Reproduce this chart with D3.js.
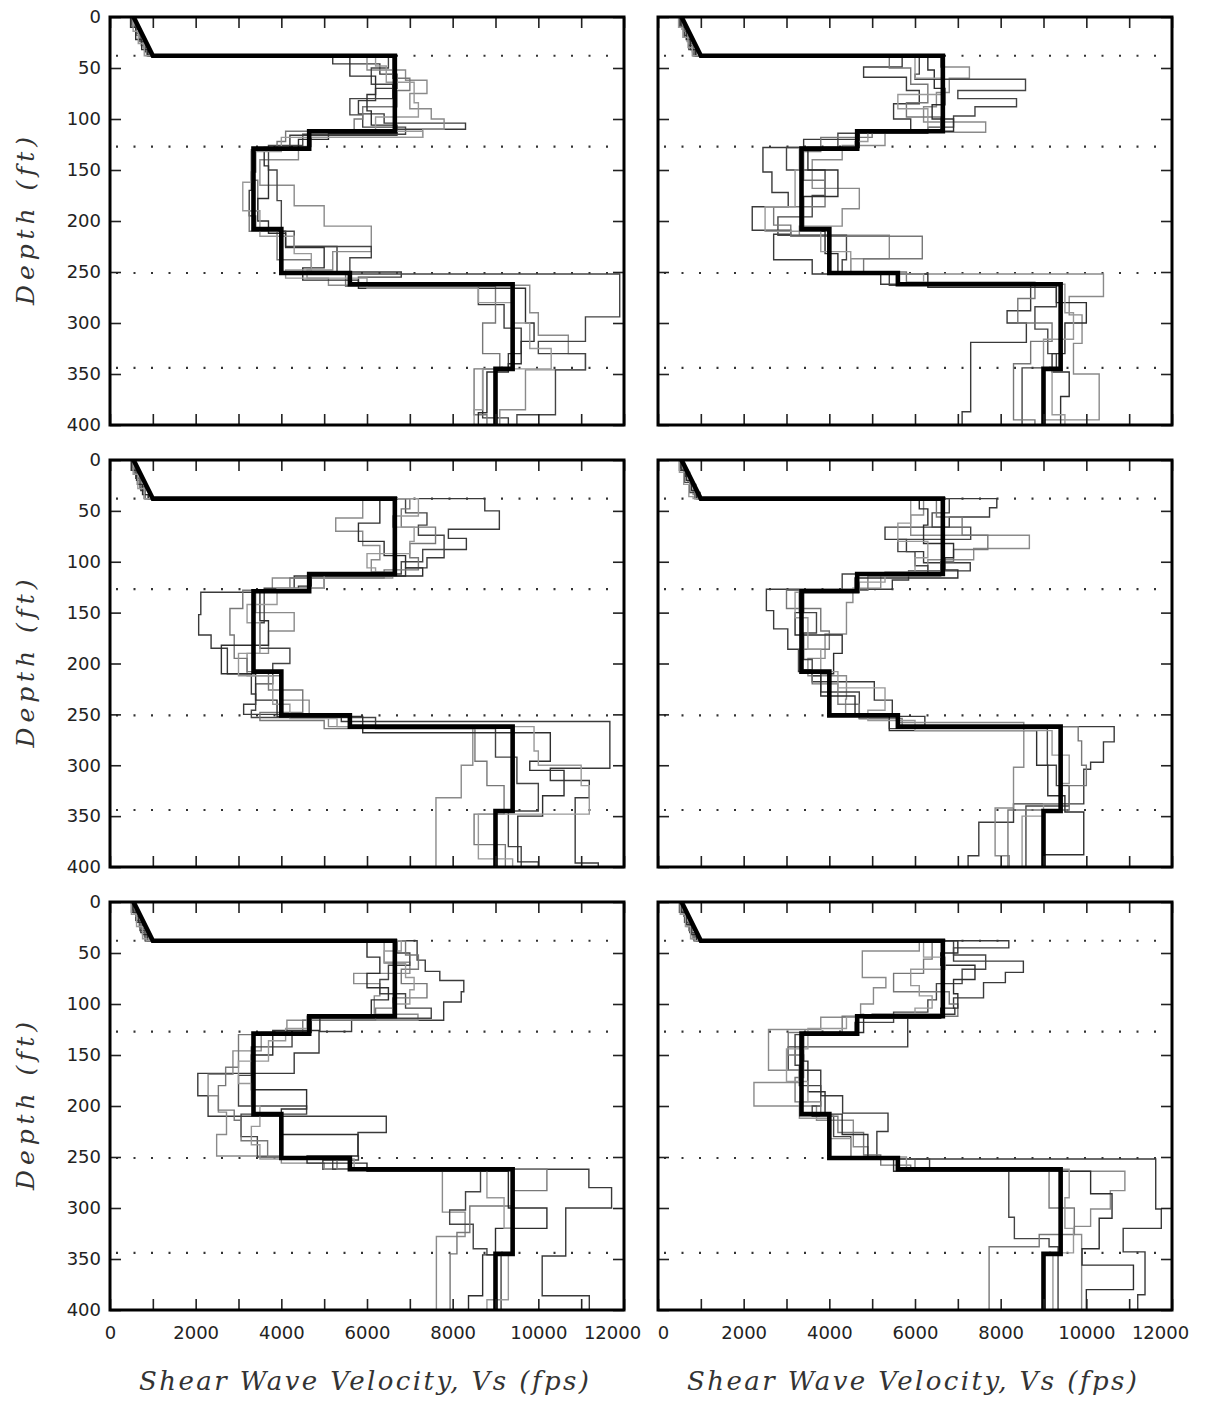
<!DOCTYPE html>
<html><head><meta charset="utf-8">
<script src="https://cdn.jsdelivr.net/npm/d3@7"></script>
<style>body{margin:0;background:#fff}</style>
</head><body>
<svg id="c" width="1206" height="1401"></svg>
<script>
// ---------------- DATA ----------------
const xTicks = [0, 2000, 4000, 6000, 8000, 10000, 12000];
const yTicks = [0, 50, 100, 150, 200, 250, 300, 350, 400];
const dottedDepths = [38, 127, 251, 344];
const xTitle = "Shear Wave Velocity, Vs (fps)";
const yTitle = "Depth (ft)";

// baseline (thick black): sloped surface part then layers [topDepth, Vs]
const baselineSurface = [[0, 550], [38, 1000]];
const baselineLayers = [[38, 6650], [112, 4650], [129, 3350], [208, 4000], [251, 5600], [262, 9400], [345, 9000]];

// randomized profiles: each profile = list of [layer top depth (ft), Vs (fps)]
const panel1 = [
  [[0,500],[8,600],[16,700],[24,800],[32,900],[38,5200],[46,6300],[56,6700],[70,6200],[82,5800],[95,6400],[104,8300],[110,6700],[116,4200],[129,3400],[152,3300],[170,3250],[195,3400],[210,4100],[225,5300],[250,6800],[255,5800],[263,8600],[282,9200],[305,9600],[330,9300],[345,8700],[393,9300]],
  [[0,560],[10,680],[20,780],[30,850],[38,6000],[52,6900],[62,7400],[75,7000],[90,7500],[100,7800],[110,7300],[118,4700],[127,4400],[140,3500],[165,4300],[185,5000],[205,6100],[230,5200],[248,4600],[256,5100],[263,9800],[290,10000],[312,10700],[330,11100],[346,9700],[385,9100]],
  [[0,600],[12,720],[24,820],[34,920],[38,6500],[50,6100],[66,6600],[80,5600],[96,5900],[108,6900],[115,4500],[126,3700],[150,3900],[180,4000],[210,4300],[225,6100],[236,5600],[252,11900],[294,11100],[318,10000],[330,11100],[346,10400],[390,9500]],
  [[0,520],[9,620],[18,730],[28,860],[36,950],[38,6600],[60,7000],[72,6700],[88,5900],[100,5700],[112,4100],[122,3900],[130,3300],[160,3450],[190,3250],[210,3900],[238,4700],[252,5500],[264,9000],[300,8700],[330,9100],[345,8500],[390,8800]],
  [[0,480],[10,600],[22,740],[32,880],[38,5600],[58,6200],[76,6000],[92,6100],[106,6700],[114,5100],[120,4400],[128,3600],[146,3700],[178,3450],[200,3700],[212,4100],[226,5000],[246,4500],[258,5800],[266,9700],[300,9900],[318,9600],[340,9300],[348,8800],[388,8600]],
  [[0,540],[14,660],[26,800],[38,6200],[48,6450],[64,7100],[84,7200],[98,6200],[112,7300],[118,4000],[132,3300],[162,3100],[190,3500],[215,4300],[232,4700],[248,4100],[256,6000],[266,8600],[280,9400],[300,9800],[325,10300],[345,8700],[385,8500]]
];
const panel2 = [
  [[0,520],[8,620],[18,720],[28,820],[38,5700],[49,4800],[59,5800],[72,6100],[85,5500],[100,5900],[113,4700],[120,3400],[128,2450],[152,2660],[172,3040],[186,2200],[209,3100],[213,2700],[238,3600],[252,5200],[262,8700],[288,8150],[300,8600],[319,7300],[387,7100]],
  [[0,560],[12,680],[24,800],[34,900],[38,6600],[49,7270],[60,6800],[74,6500],[88,6200],[103,7650],[113,5300],[126,4300],[140,3600],[168,4700],[188,4300],[205,3300],[214,5400],[237,4500],[252,10400],[274,9600],[292,9900],[320,9700],[350,10300],[395,9000]],
  [[0,500],[10,610],[20,720],[32,860],[38,6100],[56,6000],[61,8580],[72,7000],[80,8370],[88,7400],[97,6900],[108,6300],[114,4200],[128,3000],[150,3900],[175,3600],[196,2800],[214,4400],[238,4300],[252,5400],[263,9300],[284,8800],[306,9100],[330,9300],[344,8500]],
  [[0,600],[14,720],[26,840],[38,5400],[50,5900],[66,6300],[84,5800],[98,6600],[112,5000],[118,3800],[132,3400],[160,3900],[186,2700],[204,3100],[215,6170],[237,4800],[250,5800],[260,8800],[276,8400],[300,9200],[318,8700],[340,8300],[395,8800]],
  [[0,540],[10,660],[22,760],[32,880],[38,6300],[52,6450],[70,6700],[86,6400],[100,6900],[112,4700],[128,3500],[150,4200],[176,3400],[210,3900],[232,4200],[252,6300],[265,9300],[280,10000],[300,9500],[330,9200],[348,9600],[372,9400]],
  [[0,480],[10,580],[20,700],[30,800],[38,6000],[60,6650],[76,5600],[90,6300],[112,4900],[122,4600],[130,3300],[150,3200],[186,2500],[210,3800],[230,4500],[252,6200],[262,9500],[290,9700],[316,9000],[346,9200],[390,9500]]
];
const panel3 = [
  [[0,500],[10,620],[20,720],[30,820],[38,8750],[50,9090],[68,7900],[77,8320],[88,7800],[96,7400],[106,6900],[114,4300],[130,2120],[152,2070],[172,2360],[185,2740],[210,3300],[230,3400],[240,3120],[250,5400],[257,11670],[303,10280],[315,11190],[332,10860],[396,11400]],
  [[0,560],[12,680],[24,800],[34,880],[38,5900],[57,5270],[70,5900],[84,6300],[98,6100],[110,6600],[116,3790],[128,3400],[150,4300],[168,3700],[190,3200],[212,4000],[236,4650],[250,5100],[262,8470],[300,8200],[332,7610]],
  [[0,520],[8,600],[18,700],[28,800],[38,6900],[52,7400],[64,7200],[74,7800],[88,7300],[100,6800],[112,5000],[126,3600],[160,3500],[185,4200],[200,3800],[220,3400],[246,3300],[253,6200],[264,9000],[292,9500],[318,10000],[345,9300],[380,9600]],
  [[0,580],[14,700],[26,820],[38,7000],[48,6800],[66,7600],[82,7000],[96,7200],[108,6400],[116,4200],[128,3100],[146,2800],[172,2900],[195,3200],[208,3700],[226,4500],[248,3500],[256,5000],[264,8520],[296,8800],[320,9200],[348,8500],[378,9230]],
  [[0,500],[10,640],[24,760],[34,900],[38,6300],[62,5800],[80,6400],[94,6900],[106,7300],[114,4700],[124,4400],[130,3500],[158,3700],[182,2600],[210,3400],[236,3900],[252,5900],[268,10280],[296,9800],[305,10600],[330,10100],[350,9520],[395,10000]],
  [[0,540],[14,650],[28,800],[38,7200],[55,6600],[66,7100],[80,7000],[92,6000],[106,6200],[113,5000],[126,3900],[142,3200],[160,3500],[190,3000],[212,3800],[240,4200],[254,5300],[262,9900],[286,10000],[300,11000],[320,11190],[348,8600],[392,9400]]
];
const panel4 = [
  [[0,520],[8,640],[16,760],[24,880],[32,980],[38,7910],[47,7740],[56,6800],[66,5300],[78,5800],[90,6200],[101,7290],[109,5850],[118,5470],[127,2530],[148,2700],[166,3030],[186,3280],[208,3600],[218,5050],[236,5470],[252,6230],[262,10650],[277,10400],[297,10100],[304,9940],[338,8300],[356,7490],[389,7240]],
  [[0,560],[10,700],[22,820],[34,920],[38,6200],[54,5900],[74,8670],[87,7370],[98,6300],[112,5200],[126,4550],[140,4400],[171,3900],[195,3500],[212,4400],[235,4380],[250,5600],[258,8540],[302,8300],[342,7870],[389,8200]],
  [[0,500],[10,620],[22,740],[32,860],[38,6800],[52,6400],[66,7300],[78,5600],[90,6000],[104,6300],[112,4300],[128,3300],[150,3700],[170,3400],[196,3600],[212,3800],[228,4700],[254,5400],[264,9090],[300,9300],[320,9600],[340,8590]],
  [[0,600],[12,740],[24,860],[38,6500],[56,7100],[74,7700],[88,6900],[100,6600],[114,4900],[128,3000],[146,3800],[168,4000],[186,3300],[206,3600],[220,4200],[240,4700],[254,5700],[262,9810],[276,9890],[300,10000],[320,9600],[344,8170]],
  [[0,540],[10,660],[20,780],[30,900],[38,6100],[48,6300],[64,6200],[82,6900],[96,6700],[108,7000],[116,4600],[130,3400],[150,3200],[172,4300],[190,4100],[210,3800],[232,4600],[252,5400],[266,8840],[300,9100],[330,9500],[346,9940],[388,9000]],
  [[0,500],[12,600],[24,720],[36,820],[38,5900],[62,5600],[80,6300],[96,6000],[110,5300],[120,4700],[130,3200],[155,3500],[186,3800],[208,4200],[224,5300],[246,4900],[256,6000],[266,9200],[290,9600],[318,9400],[338,9000],[350,8500]]
];
const panel5 = [
  [[0,500],[10,620],[20,720],[30,840],[38,7170],[57,7360],[68,7700],[77,8260],[88,8200],[98,7790],[116,5640],[127,4880],[148,4300],[168,2050],[190,2290],[210,6450],[226,5790],[249,5800],[253,4970],[262,11180],[280,11710],[300,10640],[347,10090],[386,11190]],
  [[0,560],[12,680],[24,800],[34,920],[38,6400],[59,7000],[70,5690],[80,6300],[92,6170],[110,7190],[116,4130],[128,3530],[146,2870],[169,2290],[190,2530],[206,2720],[228,2490],[249,4000],[256,5000],[262,7760],[304,8290],[328,7620]],
  [[0,520],[8,600],[18,700],[28,820],[38,6700],[50,7000],[62,6500],[76,6300],[90,6900],[104,7500],[114,4700],[128,4250],[142,3300],[170,3000],[200,4590],[208,3060],[230,3440],[250,5200],[262,8650],[284,8300],[302,7930],[316,8480],[340,8800],[346,9130]],
  [[0,600],[14,720],[26,840],[38,6900],[52,7200],[66,6800],[80,7400],[94,6600],[104,6200],[116,4500],[130,3000],[162,2700],[180,2530],[204,2900],[214,3060],[234,3680],[250,5300],[262,10200],[283,9400],[298,8400],[324,8100],[345,7940]],
  [[0,540],[10,660],[20,760],[32,880],[38,6000],[54,6300],[70,6000],[84,6500],[96,6100],[112,4900],[126,3800],[150,3300],[184,4590],[203,4000],[228,5790],[249,4600],[256,6000],[264,9300],[300,10200],[320,9000],[346,8700],[386,8370]],
  [[0,500],[12,620],[24,760],[36,860],[38,6800],[48,6400],[60,6900],[74,7100],[86,7000],[100,6600],[112,4600],[124,4100],[136,3700],[156,3000],[178,3300],[200,3500],[220,3300],[238,3500],[252,5700],[262,8800],[290,9200],[320,9400],[344,9300],[390,8800]]
];
const panel6 = [
  [[0,520],[8,640],[16,760],[26,860],[34,960],[38,8190],[45,6900],[58,8530],[69,8110],[79,7600],[94,6900],[104,6930],[110,5000],[113,5830],[142,3040],[165,3800],[190,4310],[207,5370],[225,5110],[252,11620],[301,11750],[320,10860],[343,11370],[385,11200]],
  [[0,560],[12,680],[24,800],[36,900],[38,6100],[48,4770],[74,5320],[84,5030],[100,4730],[110,4800],[113,3800],[125,2580],[165,3300],[177,2240],[200,3700],[214,4560],[240,4900],[252,6000],[264,10900],[283,10560],[301,10100],[318,9720],[326,9890]],
  [[0,500],[10,620],[20,740],[30,840],[38,6900],[52,7650],[66,7100],[80,6500],[96,6300],[108,5500],[118,4600],[130,3200],[160,3300],[180,3800],[200,3600],[210,4100],[230,4500],[252,6340],[264,8190],[309,8320],[330,9130],[338,9340]],
  [[0,600],[14,720],[28,860],[38,6400],[56,6200],[70,5500],[88,6800],[100,7000],[112,4300],[128,3040],[150,3400],[172,3200],[196,3800],[210,4200],[226,4800],[248,5200],[258,5900],[264,9130],[300,9720],[326,8900],[338,7730]],
  [[0,540],[10,660],[22,780],[32,900],[38,7000],[50,6600],[62,7400],[76,6900],[90,7000],[104,6600],[114,4800],[128,3400],[156,3500],[186,3900],[208,4300],[228,4900],[252,5500],[264,10100],[286,10600],[310,10300],[340,9900],[356,11100],[380,10000]],
  [[0,520],[12,640],[24,760],[36,870],[38,6200],[54,6700],[66,5900],[82,6100],[92,6400],[104,6000],[113,4400],[124,3500],[144,3000],[176,3500],[196,3300],[212,4000],[232,4500],[250,5800],[262,9600],[290,9500],[320,9700],[344,9220]]
];

// ---------------- LAYOUT ----------------
const panels = [
  {data: panel1, col: 0, row: 0}, {data: panel2, col: 1, row: 0},
  {data: panel3, col: 0, row: 1}, {data: panel4, col: 1, row: 1},
  {data: panel5, col: 0, row: 2}, {data: panel6, col: 1, row: 2}
];
const colX = [[110, 624], [658, 1172]];
const rowY = [[17, 425], [460, 867], [902, 1310]];
const grays = ["#3a3a3a", "#8a8a8a", "#444", "#777", "#2e2e2e", "#999"];

const svg = d3.select("#c");

function stepPoints(layers) {
  const pts = [];
  layers.forEach((l, i) => {
    const bottom = i < layers.length - 1 ? layers[i + 1][0] : 400;
    pts.push([l[1], l[0]], [l[1], bottom]);
  });
  return pts;
}

panels.forEach(p => {
  const [x0, x1] = colX[p.col];
  const [y0, y1] = rowY[p.row];
  const x = d3.scaleLinear().domain([0, 12000]).range([x0, x1]);
  const y = d3.scaleLinear().domain([0, 400]).range([y0, y1]);
  const g = svg.append("g");
  const clipId = "clip" + p.col + p.row;
  g.append("clipPath").attr("id", clipId).append("rect")
    .attr("x", x0).attr("y", y0).attr("width", x1 - x0).attr("height", y1 - y0);

  // dotted layer lines
  g.selectAll(".dot").data(dottedDepths).join("line")
    .attr("x1", x0 + 6).attr("x2", x1 - 6)
    .attr("y1", d => y(d)).attr("y2", d => y(d))
    .attr("stroke", "#333").attr("stroke-width", 2.2)
    .attr("stroke-dasharray", "2,15.5");

  const line = d3.line().x(d => x(d[0])).y(d => y(d[1]));
  const pg = g.append("g").attr("clip-path", `url(#${clipId})`);
  pg.selectAll(".prof").data(p.data).join("path")
    .attr("d", d => line(stepPoints(d)))
    .attr("fill", "none")
    .attr("stroke", (d, i) => grays[i % grays.length])
    .attr("stroke-width", 1.4);

  // baseline
  const basePts = baselineSurface.map(d => [d[1], d[0]]).concat(stepPoints(baselineLayers));
  pg.append("path").attr("d", line(basePts))
    .attr("fill", "none").attr("stroke", "#000").attr("stroke-width", 4.6)
    .attr("stroke-linejoin", "miter");

  // inside ticks
  const tickStyle = sel => { sel.select(".domain").remove(); sel.selectAll("line").attr("stroke", "#222").attr("stroke-width", 1.6); sel.selectAll("text").remove(); };
  const xMinor = d3.range(0, 12001, 1000);
  const yMinor = yTicks;
  g.append("g").attr("transform", `translate(0,${y0})`).call(d3.axisBottom(x).tickValues(xMinor).tickSize(11)).call(tickStyle);
  g.append("g").attr("transform", `translate(0,${y1})`).call(d3.axisTop(x).tickValues(xMinor).tickSize(11)).call(tickStyle);
  g.append("g").attr("transform", `translate(${x0},0)`).call(d3.axisRight(y).tickValues(yMinor).tickSize(11)).call(tickStyle);
  g.append("g").attr("transform", `translate(${x1},0)`).call(d3.axisLeft(y).tickValues(yMinor).tickSize(11)).call(tickStyle);

  // frame
  g.append("rect").attr("x", x0).attr("y", y0).attr("width", x1 - x0).attr("height", y1 - y0)
    .attr("fill", "none").attr("stroke", "#000").attr("stroke-width", 3);

  const labStyle = sel => { sel.select(".domain").remove(); sel.selectAll("line").remove();
    sel.selectAll("text").attr("font-family", "DejaVu Sans").attr("font-size", 18).attr("fill", "#222"); };
  if (p.col === 0) {
    g.append("g").attr("transform", `translate(${x0},0)`)
      .call(d3.axisLeft(y).tickValues(yTicks).tickSize(0).tickPadding(9).tickFormat(d3.format("d"))).call(labStyle);
    g.append("text").attr("transform", `translate(34,${(y0 + y1) / 2}) rotate(-90)`)
      .attr("text-anchor", "middle").attr("font-family", "DejaVu Serif").attr("font-style", "italic")
      .attr("font-size", 25).attr("fill", "#333").attr("textLength", 168).attr("lengthAdjust", "spacing")
      .text(yTitle);
  }
  if (p.row === 2) {
    const xa = g.append("g").attr("transform", `translate(0,${y1})`)
      .call(d3.axisBottom(x).tickValues(xTicks).tickSize(0).tickPadding(16).tickFormat(d3.format("d"))).call(labStyle);
    // nudge edge labels apart like the reference
    xa.selectAll(".tick text").attr("dx", d => d === 12000 ? -12 : (d === 0 && p.col === 1 ? 5 : 0));
    g.append("text").attr("x", (x0 + x1) / 2 - 3).attr("y", 1390)
      .attr("text-anchor", "middle").attr("font-family", "DejaVu Serif").attr("font-style", "italic")
      .attr("font-size", 26).attr("fill", "#333").attr("textLength", 450).attr("lengthAdjust", "spacing")
      .text(xTitle);
  }
});
</script>
</body></html>
